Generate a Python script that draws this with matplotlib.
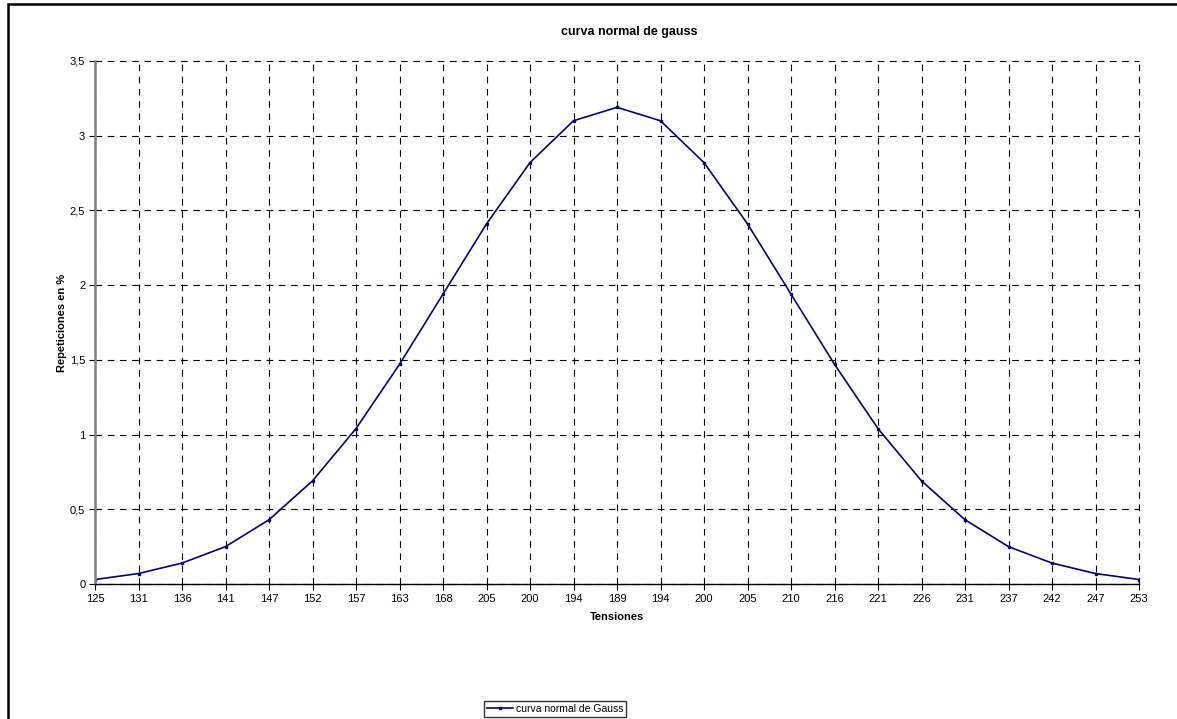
import matplotlib.pyplot as plt
from matplotlib.patches import Rectangle

plt.rcParams['font.family'] = ['Liberation Sans', 'DejaVu Sans']

# tensiones (categorías) y porcentaje de repeticiones
tensiones = ['125', '131', '136', '141', '147', '152', '157', '163', '168', '205',
             '200', '194', '189', '194', '200', '205', '210', '216', '221', '226',
             '231', '237', '242', '247', '253']
repeticiones = [0.03, 0.07, 0.14, 0.25, 0.43, 0.69, 1.04, 1.47, 1.94, 2.41,
                2.82, 3.10, 3.19, 3.10, 2.82, 2.41, 1.94, 1.47, 1.04, 0.69,
                0.43, 0.25, 0.14, 0.07, 0.03]
y_ticks = [0, 0.5, 1, 1.5, 2, 2.5, 3, 3.5]
y_labels = ['0', '0,5', '1', '1,5', '2', '2,5', '3', '3,5']

W, H = 1177, 719
fig = plt.figure(figsize=(W / 100, H / 100), dpi=100)

# marco del área del gráfico (recortado a la derecha y abajo)
fig.patches.append(Rectangle((8 / W, -0.1), 1.2, 1 - 4 / H + 0.1,
                             transform=fig.transFigure, fill=False,
                             edgecolor='black', linewidth=1.8))

ax = fig.add_axes([95 / W, 1 - 584 / H, (1139 - 95) / W, (584 - 61) / H])

x = list(range(len(tensiones)))
line, = ax.plot(x, repeticiones, color='#000080', linewidth=1.2,
                marker='s', markersize=2, label='curva normal de Gauss')

ax.set_xlim(0, len(tensiones) - 1)
ax.set_ylim(0, 3.5)
ax.set_xticks(x)
ax.set_xticklabels(tensiones, fontsize=8)
ax.set_yticks(y_ticks)
ax.set_yticklabels(y_labels, fontsize=8)

ax.grid(True, color='black', linestyle=(0, (6, 5)), linewidth=0.8)
ax.set_axisbelow(True)
# la última línea vertical cae sobre el borde: que no se recorte
for gl in ax.get_xgridlines() + ax.get_ygridlines():
    gl.set_clip_on(False)

for side in ('top', 'right'):
    ax.spines[side].set_visible(False)
ax.spines['left'].set_color('#808080')
ax.spines['left'].set_linewidth(1.8)
ax.spines['left'].set_zorder(3)
ax.spines['bottom'].set_color('black')
ax.spines['bottom'].set_linewidth(1)
ax.spines['bottom'].set_zorder(3)
ax.tick_params(axis='both', direction='out', length=4, width=0.8, pad=3)

ax.set_xlabel('Tensiones', fontsize=8, fontweight='bold', labelpad=6)
ax.set_ylabel('Repeticiones en %', fontsize=8, fontweight='bold', labelpad=2)

fig.text(629 / W, 1 - 32 / H, 'curva normal de gauss', fontsize=9,
         fontweight='bold', ha='center', va='center')

fig.legend(handles=[line], loc='center', bbox_to_anchor=(555 / W, 1 - 709 / H),
           fontsize=7.5, frameon=True, fancybox=False, edgecolor='black',
           handlelength=2.5, handletextpad=0.3, borderpad=0.3)

fig.savefig('out.png', dpi=100)
